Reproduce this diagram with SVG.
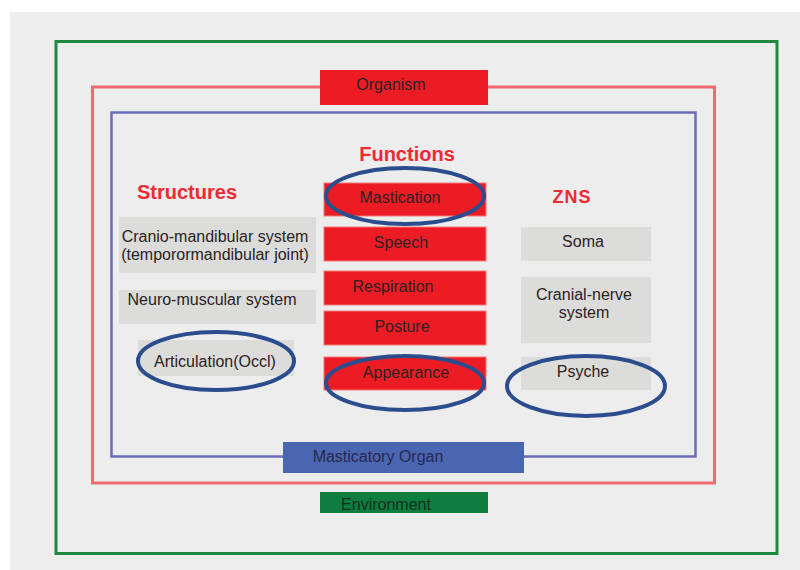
<svg xmlns="http://www.w3.org/2000/svg" width="800" height="570" viewBox="0 0 800 570">
  <style>
    .frame { fill: none; }
    .lbl { font-family: "Liberation Sans", Arial, sans-serif; font-size: 16px; fill: #2b2222; text-anchor: middle; }
    .title { font-family: "Liberation Sans", Arial, sans-serif; font-size: 20px; font-weight: bold; fill: #ee2a36; text-anchor: middle; }
    .fn { fill: #ed1c24; stroke: #f27a7a; stroke-width: 1; }
    .st { fill: #dcdcda; }
    .ring { fill: none; stroke: #2b4d8e; stroke-width: 4; }
  </style>

  <!-- page -->
  <rect x="0" y="0" width="800" height="570" fill="#ffffff"/>
  <rect x="10" y="12" width="790" height="558" fill="#ededed"/>

  <!-- nested frames -->
  <g id="frames">
    <rect class="frame" x="56" y="41.5" width="721" height="512" stroke="#1e8a40" stroke-width="3"/>
    <rect class="frame" x="92.5" y="87" width="622" height="396" stroke="#f26a6e" stroke-width="3"/>
    <rect class="frame" x="111.5" y="112.5" width="584" height="344" stroke="#6c6cb8" stroke-width="2.5"/>
  </g>

  <!-- frame labels -->
  <g id="organism">
    <rect x="320" y="70" width="168" height="35" fill="#ed1c24"/>
    <text class="lbl" x="391" y="90">Organism</text>
  </g>
  <g id="masticatory-organ">
    <rect x="283" y="442" width="241" height="31" fill="#4a66b0"/>
    <text class="lbl" x="378" y="462" fill="#252850" style="fill:#252850">Masticatory Organ</text>
  </g>
  <g id="environment">
    <rect x="320" y="492" width="168" height="21" fill="#0e7d3e"/>
    <text class="lbl" x="386" y="510" style="fill:#10301c">Environment</text>
  </g>

  <!-- column titles -->
  <g id="titles">
    <text class="title" x="407" y="161">Functions</text>
    <text class="title" x="187" y="199">Structures</text>
    <text class="title" x="572" y="203" style="font-size:18px;letter-spacing:1px">ZNS</text>
  </g>

  <!-- structures column -->
  <g id="cranio-mandibular">
    <rect class="st" x="119" y="217" width="197" height="56"/>
    <text class="lbl" x="215" y="242">Cranio-mandibular system</text>
    <text class="lbl" x="215" y="260">(temporormandibular joint)</text>
  </g>
  <g id="neuro-muscular">
    <rect class="st" x="119" y="290" width="197" height="34"/>
    <text class="lbl" x="212" y="305">Neuro-muscular system</text>
  </g>
  <g id="articulation">
    <rect class="st" x="138" y="340" width="156" height="36"/>
    <text class="lbl" x="215" y="367">Articulation(Occl)</text>
  </g>

  <!-- functions column -->
  <g id="mastication">
    <rect class="fn" x="324" y="183" width="162" height="33"/>
    <text class="lbl" x="400" y="203">Mastication</text>
  </g>
  <g id="speech">
    <rect class="fn" x="324" y="227" width="162" height="34"/>
    <text class="lbl" x="401" y="248">Speech</text>
  </g>
  <g id="respiration">
    <rect class="fn" x="324" y="271" width="162" height="34"/>
    <text class="lbl" x="393" y="292">Respiration</text>
  </g>
  <g id="posture">
    <rect class="fn" x="324" y="311" width="162" height="34"/>
    <text class="lbl" x="402" y="332">Posture</text>
  </g>
  <g id="appearance">
    <rect class="fn" x="324" y="357" width="162" height="33"/>
    <text class="lbl" x="406" y="378">Appearance</text>
  </g>

  <!-- ZNS column -->
  <g id="soma">
    <rect class="st" x="521" y="227" width="130" height="34"/>
    <text class="lbl" x="583" y="247">Soma</text>
  </g>
  <g id="cranial-nerve">
    <rect class="st" x="521" y="277" width="130" height="66"/>
    <text class="lbl" x="584" y="300">Cranial-nerve</text>
    <text class="lbl" x="584" y="318">system</text>
  </g>
  <g id="psyche">
    <rect class="st" x="521" y="357" width="130" height="33"/>
    <text class="lbl" x="583" y="377">Psyche</text>
  </g>

  <!-- highlight rings -->
  <g id="connectors">
    <ellipse class="ring" cx="405" cy="196" rx="79" ry="28"/>
    <ellipse class="ring" cx="405" cy="383" rx="79" ry="27"/>
    <ellipse class="ring" cx="216" cy="361" rx="78" ry="29"/>
    <ellipse class="ring" cx="586" cy="386" rx="79" ry="30"/>
  </g>
</svg>
